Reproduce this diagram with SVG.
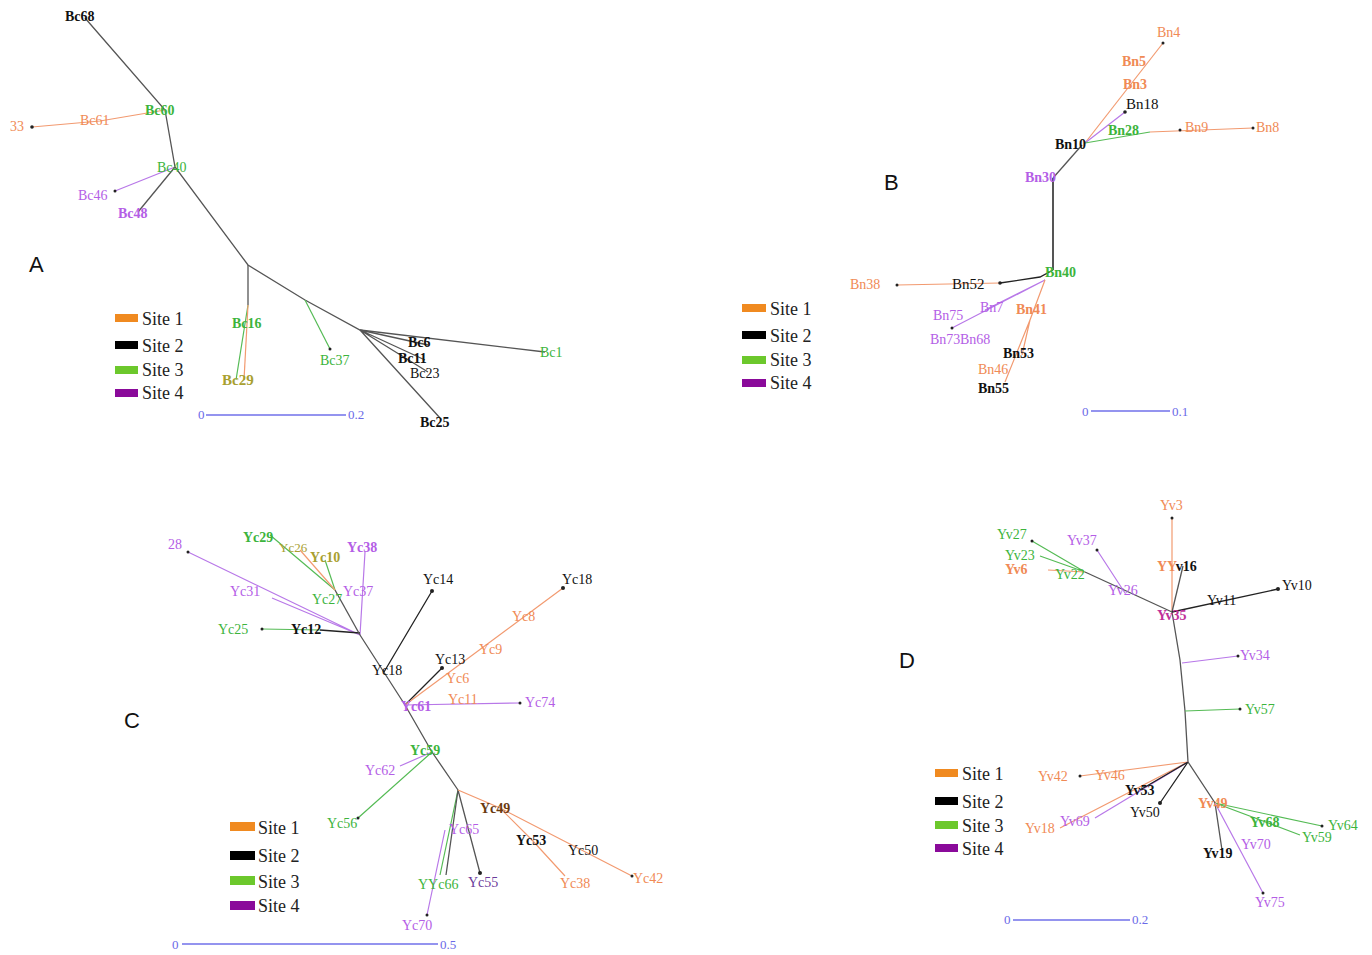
<svg xmlns="http://www.w3.org/2000/svg" width="1372" height="955" viewBox="0 0 1372 955">
<style>
text{font-family:"Liberation Serif","Times New Roman",serif;font-size:14px}
.pl{font-family:"Liberation Sans",Arial,sans-serif;font-size:22px;fill:#111}
.lg{font-size:18px;fill:#222}
.sc{font-size:13px;fill:#6a6ae8}
.b{font-weight:bold}
.to{fill:#f08a55}.tk{fill:#111}.tg{fill:#3cb43c}.tp{fill:#b45ee6}.tm{fill:#c0309a}.ty{fill:#a8a030}
.e{fill:none;stroke:#555;stroke-width:1.3}
.eo{fill:none;stroke:#f29a70;stroke-width:1.2}
.eg{fill:none;stroke:#55bb55;stroke-width:1.2}
.ep{fill:none;stroke:#b878e8;stroke-width:1.2}
.ek{fill:none;stroke:#222;stroke-width:1.3}
.sb{stroke:#7070ea;stroke-width:1.3}
.d{fill:#222}
</style>
<rect width="1372" height="955" fill="#fff"/>
<g id="connectors">
<!-- Panel A -->
<path class="e" d="M85 18L165 110L175 167L248 265L305 300L360 330L545 352"/>
<path class="eo" d="M165 110L100 121L32 127"/>
<path class="ep" d="M175 167L115 191"/>
<path class="e" d="M175 167L138 212"/>
<path class="e" d="M248 265L248 305"/>
<path class="eg" d="M248 305L236 380"/>
<path class="eo" d="M248 305L244 380"/>
<path class="eg" d="M305 300L330 349"/>
<path class="e" d="M360 330L428 345M360 330L425 360M360 330L428 372M360 330L440 418"/>
<!-- Panel B -->
<path class="e" d="M1053 178L1053 270" style="stroke-width:2"/>
<path class="e" d="M1053 178L1082 145"/>
<path class="eo" d="M1085 143L1163 43"/>
<path class="ep" d="M1085 143L1125 112"/>
<path class="eg" d="M1085 143L1150 132"/>
<path class="eo" d="M1150 132L1253 128"/>
<path class="ek" d="M1053 270L1040 277L1000 283"/>
<path class="eo" d="M1000 283L897 285"/>
<path class="ep" d="M1045 280L985 310M1045 280L952 328"/>
<path class="eo" d="M1045 280L1030 320L1022 355M1030 320L1005 382"/>
<!-- Panel C -->
<path class="e" d="M360 635L405 705L432 752L458 790"/>
<path class="ep" d="M360 635L188 552M360 635L272 598M360 635L365 552"/>
<path class="ek" d="M360 633L320 630"/>
<path class="eg" d="M320 630L262 629"/>
<path class="e" d="M360 635L335 590"/>
<path class="eg" d="M335 590L270 535M335 590L325 560"/>
<path class="eo" d="M335 590L300 550"/>
<path class="ek" d="M384 672L432 591M405 705L442 668"/>
<path class="eo" d="M405 705L563 588"/>
<path class="ep" d="M405 705L520 703M432 752L400 766M445 830L427 915"/>
<path class="eg" d="M432 752L358 818M458 790L440 875"/>
<path class="e" d="M458 790L446 875M458 790L480 873"/>
<path class="eo" d="M458 790L500 808L532 840L565 876M500 808L632 876"/>
<!-- Panel D -->
<path class="e" d="M1172 612L1180 660L1185 711L1188 762"/>
<path class="eo" d="M1172 612L1172 518"/>
<path class="e" d="M1172 612L1183 566"/>
<path class="ek" d="M1172 612L1278 589"/>
<path class="e" d="M1172 612L1085 572"/>
<path class="eg" d="M1085 572L1032 541M1085 572L1040 556"/>
<path class="eo" d="M1085 572L1048 570"/>
<path class="ep" d="M1125 593L1097 550M1182 663L1238 656"/>
<path class="eg" d="M1185 711L1240 709"/>
<path class="eo" d="M1188 762L1080 776M1188 762L1060 828"/>
<path class="ep" d="M1188 762L1095 818"/>
<path class="ek" d="M1188 762L1140 790M1188 762L1160 803"/>
<path class="e" d="M1188 762L1215 803L1222 850"/>
<path class="eg" d="M1215 803L1322 826M1215 803L1300 835"/>
<path class="ep" d="M1215 803L1263 893"/>
</g>
<g id="dots">
<circle class="d" cx="32" cy="127" r="1.8"/><circle class="d" cx="115" cy="191" r="1.5"/><circle class="d" cx="330" cy="349" r="1.5"/>
<circle class="d" cx="1163" cy="43" r="1.5"/><circle class="d" cx="1125" cy="112" r="1.8"/><circle class="d" cx="1180" cy="130" r="1.5"/><circle class="d" cx="1253" cy="128" r="1.5"/><circle class="d" cx="1000" cy="283" r="1.8"/><circle class="d" cx="897" cy="285" r="1.5"/><circle class="d" cx="952" cy="328" r="1.5"/>
<circle class="d" cx="188" cy="552" r="1.5"/><circle class="d" cx="262" cy="629" r="1.5"/><circle class="d" cx="432" cy="591" r="2"/><circle class="d" cx="563" cy="588" r="2"/><circle class="d" cx="442" cy="668" r="2"/><circle class="d" cx="520" cy="703" r="1.5"/><circle class="d" cx="358" cy="818" r="1.5"/><circle class="d" cx="480" cy="873" r="2"/><circle class="d" cx="427" cy="915" r="1.5"/><circle class="d" cx="632" cy="876" r="1.5"/>
<circle class="d" cx="1172" cy="518" r="1.5"/><circle class="d" cx="1278" cy="589" r="2"/><circle class="d" cx="1032" cy="541" r="1.5"/><circle class="d" cx="1097" cy="550" r="1.5"/><circle class="d" cx="1238" cy="656" r="1.5"/><circle class="d" cx="1240" cy="709" r="1.5"/><circle class="d" cx="1080" cy="776" r="1.5"/><circle class="d" cx="1160" cy="803" r="2"/><circle class="d" cx="1322" cy="826" r="1.5"/><circle class="d" cx="1263" cy="893" r="1.5"/>
</g>
<!-- Panel A nodes -->
<g id="panelA">
<text class="pl" x="29" y="272">A</text>
<g id="Bc68"><text class="tk b" x="65" y="21">Bc68</text></g>
<g id="Bc60"><text class="tg b" x="145" y="115">Bc60</text></g>
<g id="Bc61"><text class="to" x="80" y="125">Bc61</text></g>
<g id="n33"><text class="to" x="10" y="131">33</text></g>
<g id="Bc40"><text class="tg" x="157" y="172">Bc40</text></g>
<g id="Bc46"><text class="tp" x="78" y="200">Bc46</text></g>
<g id="Bc48"><text class="tp b" x="118" y="218">Bc48</text></g>
<g id="Bc16"><text class="tg b" x="232" y="328">Bc16</text></g>
<g id="Bc29"><text class="ty b" x="222" y="385" style="font-size:15px">Bc29</text></g>
<g id="Bc37"><text class="tg" x="320" y="365">Bc37</text></g>
<g id="Bc6"><text class="tk b" x="408" y="347">Bc6</text></g>
<g id="Bc11"><text class="tk b" x="398" y="363">Bc11</text></g>
<g id="Bc23"><text class="tk" x="410" y="378">Bc23</text></g>
<g id="Bc25"><text class="tk b" x="420" y="427">Bc25</text></g>
<g id="Bc1"><text class="tg" x="540" y="357">Bc1</text></g>
<g id="legendA">
<rect x="115" y="314" width="23" height="8" fill="#f08a20"/><text class="lg" x="142" y="325">Site 1</text>
<rect x="115" y="341" width="23" height="8" fill="#000"/><text class="lg" x="142" y="352">Site 2</text>
<rect x="115" y="366" width="23" height="8" fill="#6cc82c"/><text class="lg" x="142" y="376">Site 3</text>
<rect x="115" y="389" width="23" height="8" fill="#8a0a9a"/><text class="lg" x="142" y="399">Site 4</text>
</g>
<g id="scaleA"><text class="sc" x="198" y="419">0</text><line class="sb" x1="206" y1="415" x2="346" y2="415"/><text class="sc" x="348" y="419">0.2</text></g>
</g>
<!-- Panel B nodes -->
<g id="panelB">
<text class="pl" x="884" y="190">B</text>
<g id="Bn4"><text class="to" x="1157" y="37">Bn4</text></g>
<g id="Bn5"><text class="to b" x="1122" y="66">Bn5</text></g>
<g id="Bn3"><text class="to b" x="1123" y="89">Bn3</text></g>
<g id="Bn18"><text class="tk" x="1126" y="109" style="font-size:15px">Bn18</text></g>
<g id="Bn28"><text class="tg b" x="1108" y="135">Bn28</text></g>
<g id="Bn9"><text class="to" x="1185" y="132">Bn9</text></g>
<g id="Bn8"><text class="to" x="1256" y="132">Bn8</text></g>
<g id="Bn10"><text class="tk b" x="1055" y="149">Bn10</text></g>
<g id="Bn30"><text class="tp b" x="1025" y="182">Bn30</text></g>
<g id="Bn40"><text class="tg b" x="1045" y="277">Bn40</text></g>
<g id="Bn52"><text class="tk" x="952" y="289" style="font-size:15px">Bn52</text></g>
<g id="Bn38"><text class="to" x="850" y="289">Bn38</text></g>
<g id="Bn75"><text class="tp" x="933" y="320">Bn75</text></g>
<g id="Bn7"><text class="tp" x="980" y="312">Bn7</text></g>
<g id="Bn41"><text class="to b" x="1016" y="314">Bn41</text></g>
<g id="Bn73"><text class="tp" x="930" y="344">Bn73</text></g>
<g id="Bn68"><text class="tp" x="960" y="344">Bn68</text></g>
<g id="Bn53"><text class="tk b" x="1003" y="358">Bn53</text></g>
<g id="Bn46"><text class="to" x="978" y="374">Bn46</text></g>
<g id="Bn55"><text class="tk b" x="978" y="393">Bn55</text></g>
<g id="legendB">
<rect x="742" y="304" width="24" height="8" fill="#f08a20"/><text class="lg" x="770" y="315">Site 1</text>
<rect x="742" y="331" width="24" height="8" fill="#000"/><text class="lg" x="770" y="342">Site 2</text>
<rect x="742" y="356" width="24" height="8" fill="#6cc82c"/><text class="lg" x="770" y="366">Site 3</text>
<rect x="742" y="379" width="24" height="8" fill="#8a0a9a"/><text class="lg" x="770" y="389">Site 4</text>
</g>
<g id="scaleB"><text class="sc" x="1082" y="416">0</text><line class="sb" x1="1091" y1="411" x2="1170" y2="411"/><text class="sc" x="1172" y="416">0.1</text></g>
</g>
<!-- Panel C nodes -->
<g id="panelC">
<text class="pl" x="124" y="728">C</text>
<g id="n28"><text class="tp" x="168" y="549">28</text></g>
<g id="Yc29"><text class="tg b" x="243" y="542">Yc29</text></g>
<g id="Yc26"><text class="ty" x="279" y="552" style="font-size:13px">Yc26</text></g>
<g id="Yc10"><text class="ty b" x="310" y="562">Yc10</text></g>
<g id="Yc38a"><text class="tp b" x="347" y="552">Yc38</text></g>
<g id="Yc27"><text class="tg" x="312" y="604">Yc27</text></g>
<g id="Yc37"><text class="tp" x="343" y="596">Yc37</text></g>
<g id="Yc31"><text class="tp" x="230" y="596">Yc31</text></g>
<g id="Yc25"><text class="tg" x="218" y="634">Yc25</text></g>
<g id="Yc12"><text class="tk b" x="291" y="634">Yc12</text></g>
<g id="Yc18a"><text class="tk" x="372" y="675">Yc18</text></g>
<g id="Yc14"><text class="tk" x="423" y="584">Yc14</text></g>
<g id="Yc18b"><text class="tk" x="562" y="584">Yc18</text></g>
<g id="Yc8"><text class="to" x="512" y="621">Yc8</text></g>
<g id="Yc9"><text class="to" x="479" y="654">Yc9</text></g>
<g id="Yc6"><text class="to" x="446" y="683">Yc6</text></g>
<g id="Yc13"><text class="tk" x="435" y="664">Yc13</text></g>
<g id="Yc11"><text class="to" x="448" y="704">Yc11</text></g>
<g id="Yc74"><text class="tp" x="525" y="707">Yc74</text></g>
<g id="Yc61"><text class="tp b" x="401" y="711">Yc61</text></g>
<g id="Yc59"><text class="tg b" x="410" y="755">Yc59</text></g>
<g id="Yc62"><text class="tp" x="365" y="775">Yc62</text></g>
<g id="Yc56"><text class="tg" x="327" y="828">Yc56</text></g>
<g id="Yc49"><text class="tk b" x="480" y="813" style="fill:#6a3a10">Yc49</text></g>
<g id="Yc53"><text class="tk b" x="516" y="845">Yc53</text></g>
<g id="Yc50"><text class="tk" x="568" y="855">Yc50</text></g>
<g id="Yc38b"><text class="to" x="560" y="888">Yc38</text></g>
<g id="Yc42"><text class="to" x="633" y="883">Yc42</text></g>
<g id="Yc65"><text class="tp" x="449" y="834">Yc65</text></g>
<g id="Yc66"><text class="tg" x="418" y="889">YYc66</text></g>
<g id="Yc55"><text class="tp" x="468" y="887" style="fill:#6a3a9a">Yc55</text></g>
<g id="Yc70"><text class="tp" x="402" y="930">Yc70</text></g>
<g id="legendC">
<rect x="230" y="822" width="25" height="9" fill="#f08a20"/><text class="lg" x="258" y="834">Site 1</text>
<rect x="230" y="851" width="25" height="9" fill="#000"/><text class="lg" x="258" y="862">Site 2</text>
<rect x="230" y="876" width="25" height="9" fill="#6cc82c"/><text class="lg" x="258" y="888">Site 3</text>
<rect x="230" y="901" width="25" height="9" fill="#8a0a9a"/><text class="lg" x="258" y="912">Site 4</text>
</g>
<g id="scaleC"><text class="sc" x="172" y="949">0</text><line class="sb" x1="182" y1="944" x2="438" y2="944"/><text class="sc" x="440" y="949">0.5</text></g>
</g>
<!-- Panel D nodes -->
<g id="panelD">
<text class="pl" x="899" y="668">D</text>
<g id="Yv3"><text class="to" x="1160" y="510">Yv3</text></g>
<g id="Yv16"><text class="tk b" x="1157" y="571"><tspan class="to">YY</tspan>v16</text></g>
<g id="Yv35"><text class="tm b" x="1157" y="620">Yv35</text></g>
<g id="Yv11"><text class="tk" x="1207" y="605">Yv11</text></g>
<g id="Yv10"><text class="tk" x="1282" y="590">Yv10</text></g>
<g id="Yv27"><text class="tg" x="997" y="539">Yv27</text></g>
<g id="Yv23"><text class="tg" x="1005" y="560">Yv23</text></g>
<g id="Yv6"><text class="to b" x="1005" y="574">Yv6</text></g>
<g id="Yv22"><text class="tg" x="1055" y="579">Yv22</text></g>
<g id="Yv26"><text class="tp" x="1108" y="595">Yv26</text></g>
<g id="Yv37"><text class="tp" x="1067" y="545">Yv37</text></g>
<g id="Yv34"><text class="tp" x="1240" y="660">Yv34</text></g>
<g id="Yv57"><text class="tg" x="1245" y="714">Yv57</text></g>
<g id="Yv42"><text class="to" x="1038" y="781">Yv42</text></g>
<g id="Yv46"><text class="to" x="1095" y="780">Yv46</text></g>
<g id="Yv53"><text class="tk b" x="1125" y="795">Yv53</text></g>
<g id="Yv50"><text class="tk" x="1130" y="817">Yv50</text></g>
<g id="Yv18"><text class="to" x="1025" y="833">Yv18</text></g>
<g id="Yv69"><text class="tp" x="1060" y="826">Yv69</text></g>
<g id="Yv49"><text class="to b" x="1198" y="808">Yv49</text></g>
<g id="Yv68"><text class="tg b" x="1250" y="827">Yv68</text></g>
<g id="Yv64"><text class="tg" x="1328" y="830">Yv64</text></g>
<g id="Yv59"><text class="tg" x="1302" y="842">Yv59</text></g>
<g id="Yv19"><text class="tk b" x="1203" y="858">Yv19</text></g>
<g id="Yv70"><text class="tp" x="1241" y="849">Yv70</text></g>
<g id="Yv75"><text class="tp" x="1255" y="907">Yv75</text></g>
<g id="legendD">
<rect x="935" y="769" width="23" height="8" fill="#f08a20"/><text class="lg" x="962" y="780">Site 1</text>
<rect x="935" y="797" width="23" height="8" fill="#000"/><text class="lg" x="962" y="808">Site 2</text>
<rect x="935" y="821" width="23" height="8" fill="#6cc82c"/><text class="lg" x="962" y="832">Site 3</text>
<rect x="935" y="844" width="23" height="8" fill="#8a0a9a"/><text class="lg" x="962" y="855">Site 4</text>
</g>
<g id="scaleD"><text class="sc" x="1004" y="924">0</text><line class="sb" x1="1013" y1="920" x2="1130" y2="920"/><text class="sc" x="1132" y="924">0.2</text></g>
</g>
</svg>
